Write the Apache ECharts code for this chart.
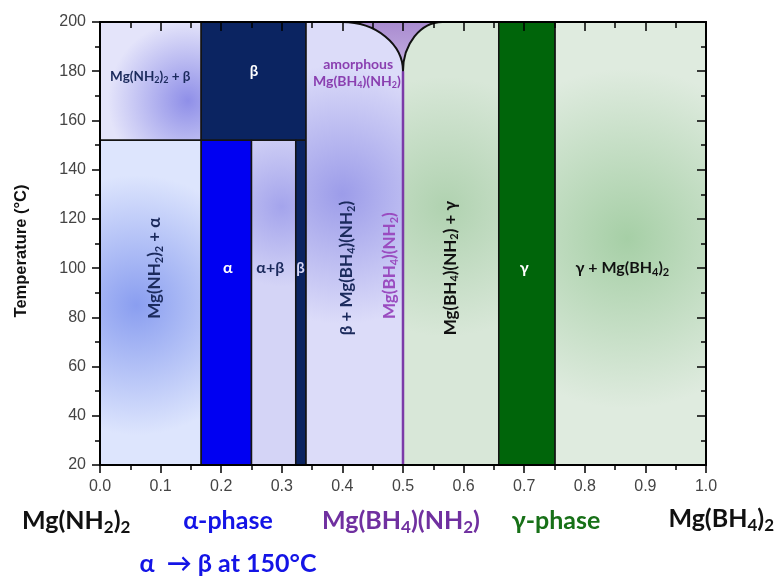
<!DOCTYPE html>
<html><head><meta charset="utf-8">
<script src="https://cdn.jsdelivr.net/npm/echarts@6/dist/echarts.min.js"></script>
<style>html,body{margin:0;padding:0;background:#fff}#c{width:776px;height:577px}</style>
</head><body><div id="c"></div>
<script>
// ---------------- data ----------------
const xRange = [0, 1];
const tRange = [20, 200];
// phase regions: [x start, x end, T low, T high]
const regionNames = ['Mg(NH2)2 + β', 'β (above transition)', 'Mg(NH2)2 + α', 'α', 'α+β', 'β', 'β + Mg(BH4)(NH2)', 'Mg(BH4)(NH2) + γ', 'γ', 'γ + Mg(BH4)2'];
const regionBounds = [
  [0.000, 0.167, 152, 200],
  [0.167, 0.340, 152, 200],
  [0.000, 0.167, 20, 152],
  [0.167, 0.250, 20, 152],
  [0.250, 0.323, 20, 152],
  [0.323, 0.340, 20, 152],
  [0.340, 0.500, 20, 200],
  [0.500, 0.658, 20, 200],
  [0.658, 0.751, 20, 200],
  [0.751, 1.000, 20, 200]
];
// amorphous Mg(BH4)(NH2) cusp: left top, cusp, right top
const amorphousX = [0.40, 0.50, 0.565];
const amorphousT = [200, 180, 200];
// Mg(BH4)(NH2) line compound
const compoundX = 0.5;
const compoundT = [20, 180];
// labels inside the diagram
const labelTexts = [
  'Mg(NH{s|2}){s|2} + β', 'β', 'amorphous', 'Mg(BH{s|4})(NH{s|2})',
  'Mg(NH{s|2}){s|2} + α', 'α', 'α+β', 'β',
  'β + Mg(BH{s|4})(NH{s|2})', 'Mg(BH{s|4})(NH{s|2})', 'Mg(BH{s|4})(NH{s|2}) + γ',
  'γ', 'γ + Mg(BH{s|4}){s|2}'
];
const labelX = [0.083, 0.254, 0.426, 0.424, 0.090, 0.211, 0.281, 0.331, 0.407, 0.478, 0.578, 0.700, 0.862];
const labelT = [178, 180, 182.8, 175.8, 100, 100, 100, 100, 100, 101, 100, 100, 100];

// ---------------- styles ----------------
const NAVY = '#1b2a5c';
const regionStyles = [
  {base: '#e4e4fa', glow: '#8f8fe8', gx: 0.145, gy: 168, gr: 80},
  {solid: '#0b2461'},
  {base: '#dde5fd', glow: '#8a9ef0', gx: 0.06, gy: 85, gr: 130},
  {solid: '#0000f2'},
  {base: '#d4d4f6', glow: '#a4a4ec', gx: 0.30, gy: 125, gr: 80},
  {solid: '#0b2461'},
  {base: '#dcdcf9', glow: '#9c9ce9', gx: 0.40, gy: 130, gr: 130},
  {base: '#d8e7d8', glow: '#b0d2b0', gx: 0.57, gy: 125, gr: 130},
  {solid: '#00650a'},
  {base: '#dfebdf', glow: '#a6cfa6', gx: 0.87, gy: 112, gr: 170}
];
const labelStyles = [
  {size: 13.5, color: NAVY},
  {size: 15, color: '#ffffff'},
  {size: 14, color: '#8a3fb0'},
  {size: 14, color: '#8a3fb0'},
  {size: 17, color: NAVY, rot: true},
  {size: 16, color: '#ffffff'},
  {size: 16, color: NAVY},
  {size: 15, color: '#d6d6f6'},
  {size: 17, color: NAVY, rot: true},
  {size: 17, color: '#9a4cc0', rot: true},
  {size: 17, color: '#111111', rot: true},
  {size: 16, color: '#ffffff'},
  {size: 16, color: '#111111'}
];
const FONT = 'Lato, "Open Sans", "Noto Sans", sans-serif';

function richFor(size, color) {
  return {
    s: {fontSize: Math.round(size * 0.66), fontFamily: FONT, fontWeight: 'bold', fill: color,
        padding: [Math.round(size * 0.55), 0, 0, 0]}
  };
}

const chart = echarts.init(document.getElementById('c'), null, {renderer: 'canvas'});

function renderRegion(params, api) {
  const i = params.dataIndex;
  const p0 = api.coord([api.value(0), api.value(3)]);
  const p1 = api.coord([api.value(1), api.value(2)]);
  const st = regionStyles[i];
  let fill;
  if (st.solid) fill = st.solid;
  else {
    const c = api.coord([st.gx, st.gy]);
    fill = new echarts.graphic.RadialGradient(c[0], c[1], st.gr,
      [{offset: 0, color: st.glow}, {offset: 1, color: st.base}], true);
  }
  return {
    type: 'rect',
    shape: {x: p0[0], y: p0[1], width: p1[0] - p0[0], height: p1[1] - p0[1]},
    style: {fill: fill, stroke: '#141414', lineWidth: 1.5}
  };
}

function renderAmorphous(params, api) {
  const A = api.coord([amorphousX[0], amorphousT[0]]);
  const B = api.coord([amorphousX[1], amorphousT[1]]);
  const D = api.coord([amorphousX[2], amorphousT[2]]);
  const k = 0.5523;
  const path = 'M' + A[0] + ' ' + A[1] +
    ' L' + D[0] + ' ' + D[1] +
    ' C' + (D[0] - k * (D[0] - B[0])) + ' ' + D[1] + ' ' + B[0] + ' ' + (B[1] - k * (B[1] - D[1])) + ' ' + B[0] + ' ' + B[1] +
    ' C' + B[0] + ' ' + (B[1] - k * (B[1] - A[1])) + ' ' + (A[0] + k * (B[0] - A[0])) + ' ' + A[1] + ' ' + A[0] + ' ' + A[1] + ' Z';
  const grad = new echarts.graphic.LinearGradient(0, A[1], 0, B[1],
    [{offset: 0, color: '#a98bd0'}, {offset: 1, color: '#c6b2e2'}], true);
  return {
    type: 'path',
    shape: {pathData: path},
    style: {fill: grad, stroke: '#111', lineWidth: 2}
  };
}

function renderCompound(params, api) {
  const a = api.coord([compoundX, compoundT[0]]);
  const b = api.coord([compoundX, compoundT[1]]);
  return {
    type: 'line',
    shape: {x1: a[0], y1: a[1], x2: b[0], y2: b[1]},
    style: {stroke: '#7b3aa8', lineWidth: 2.5}
  };
}

function renderLabel(params, api) {
  const i = params.dataIndex;
  const p = api.coord([api.value(0), api.value(1)]);
  const st = labelStyles[i];
  return {
    type: 'text',
    x: p[0], y: p[1],
    rotation: st.rot ? Math.PI / 2 : 0,
    style: {
      text: labelTexts[i],
      fill: st.color,
      fontSize: st.size, fontFamily: FONT, fontWeight: 'bold',
      align: 'center', verticalAlign: 'middle',
      rich: richFor(st.size, st.color)
    }
  };
}

const tickStyle = {color: '#000', width: 1.5};
const labelFont = {fontSize: 16, fontFamily: '"Liberation Sans", Arial, sans-serif', color: '#444'};

const option = {
  backgroundColor: '#fff',
  animation: false,
  grid: {left: 100, right: 70, top: 22, bottom: 112, containLabel: false},
  xAxis: [
    {type: 'value', min: xRange[0], max: xRange[1], interval: 0.1, position: 'bottom', z: 10,
     axisLine: {onZero: false, lineStyle: {color: '#000', width: 2}},
     axisTick: {inside: false, length: 8, lineStyle: tickStyle},
     minorTick: {show: true, splitNumber: 2, length: 5, lineStyle: tickStyle},
     axisLabel: Object.assign({margin: 14, formatter: v => v.toFixed(1)}, labelFont),
     splitLine: {show: false}, minorSplitLine: {show: false}},
    {type: 'value', min: xRange[0], max: xRange[1], interval: 0.1, position: 'top', z: 10,
     axisLine: {onZero: false, lineStyle: {color: '#000', width: 2}},
     axisTick: {inside: true, length: 9, lineStyle: tickStyle},
     minorTick: {show: true, splitNumber: 2, length: 6, lineStyle: tickStyle},
     axisLabel: {show: false}, splitLine: {show: false}}
  ],
  yAxis: [
    {type: 'value', min: tRange[0], max: tRange[1], interval: 20, position: 'left', z: 10,
     axisLine: {onZero: false, lineStyle: {color: '#000', width: 2}},
     axisTick: {inside: false, length: 8, lineStyle: tickStyle},
     minorTick: {show: true, splitNumber: 2, length: 5, lineStyle: tickStyle},
     axisLabel: Object.assign({margin: 14}, labelFont),
     splitLine: {show: false}},
    {type: 'value', min: tRange[0], max: tRange[1], interval: 20, position: 'right', z: 10,
     axisLine: {onZero: false, lineStyle: {color: '#000', width: 2}},
     axisTick: {inside: true, length: 9, lineStyle: tickStyle},
     minorTick: {show: true, splitNumber: 2, length: 5, lineStyle: tickStyle},
     axisLabel: {show: false}, splitLine: {show: false}}
  ],
  series: [
    {type: 'custom', name: 'regions', xAxisIndex: 0, yAxisIndex: 0, z: 2,
     renderItem: renderRegion, data: regionBounds, encode: {x: [0, 1], y: [2, 3]}, silent: true},
    {type: 'custom', name: 'amorphous', xAxisIndex: 0, yAxisIndex: 0, z: 3,
     renderItem: renderAmorphous, data: [[amorphousX[1], amorphousT[1]]], silent: true},
    {type: 'custom', name: 'compound', xAxisIndex: 0, yAxisIndex: 0, z: 4,
     renderItem: renderCompound, data: [[compoundX, compoundT[1]]], silent: true},
    {type: 'custom', name: 'labels', xAxisIndex: 0, yAxisIndex: 0, z: 5,
     renderItem: renderLabel, data: labelX.map((x, i) => [x, labelT[i]]), silent: true}
  ],
  graphic: [
    {type: 'text', x: 21, y: 251, rotation: Math.PI / 2,
     style: {text: 'Temperature (°C)', fill: '#111', fontSize: 16.5, fontWeight: 'bold',
             fontFamily: '"Liberation Sans", Arial, sans-serif', align: 'center', verticalAlign: 'middle'}},
    {type: 'text', x: 22, y: 521,
     style: {text: 'Mg(NH{s|2}){s|2}', fill: '#111', fontSize: 25, fontWeight: 'bold', fontFamily: FONT,
             align: 'left', verticalAlign: 'middle', rich: richFor(25, '#111')}},
    {type: 'text', x: 228, y: 521,
     style: {text: 'α-phase', fill: '#1414e6', fontSize: 25, fontWeight: 'bold', fontFamily: FONT,
             align: 'center', verticalAlign: 'middle'}},
    {type: 'text', x: 228, y: 564,
     style: {text: 'α  → β at 150°C', fill: '#1414e6', fontSize: 25, fontWeight: 'bold', fontFamily: FONT,
             align: 'center', verticalAlign: 'middle'}},
    {type: 'text', x: 401, y: 521,
     style: {text: 'Mg(BH{s|4})(NH{s|2})', fill: '#7030a0', fontSize: 25, fontWeight: 'bold', fontFamily: FONT,
             align: 'center', verticalAlign: 'middle', rich: richFor(25, '#7030a0')}},
    {type: 'text', x: 556, y: 521,
     style: {text: 'γ-phase', fill: '#177017', fontSize: 25, fontWeight: 'bold', fontFamily: FONT,
             align: 'center', verticalAlign: 'middle'}},
    {type: 'text', x: 774, y: 519,
     style: {text: 'Mg(BH{s|4}){s|2}', fill: '#111', fontSize: 25, fontWeight: 'bold', fontFamily: FONT,
             align: 'right', verticalAlign: 'middle', rich: richFor(25, '#111')}}
  ]
};
chart.setOption(option);
</script>
</body></html>
